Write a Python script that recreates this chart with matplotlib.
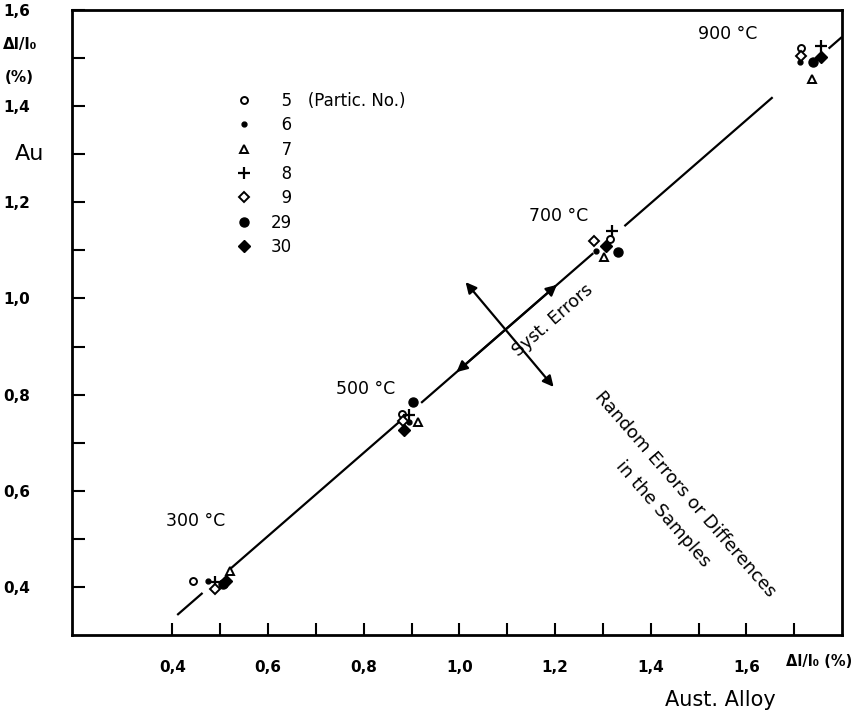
import numpy as np
import matplotlib.pyplot as plt
from matplotlib.lines import Line2D
from matplotlib.transforms import blended_transform_factory

plt.rcParams['font.family'] = ['DejaVu Sans']

# dilatation (%) of the austenitic alloy (x) vs. gold (y), per particle number
temps = [300, 500, 700, 900]
particles = ['5', '6', '7', '8', '9', '29', '30']
x_5 = [0.444, 0.881, 1.314, 1.714]
y_5 = [0.412, 0.760, 1.123, 1.521]
x_6 = [0.475, 0.894, 1.285, 1.712]
y_6 = [0.412, 0.743, 1.099, 1.491]
x_7 = [0.521, 0.913, 1.302, 1.737]
y_7 = [0.433, 0.743, 1.086, 1.456]
x_8 = [0.490, 0.894, 1.320, 1.756]
y_8 = [0.410, 0.757, 1.140, 1.525]
x_9 = [0.490, 0.883, 1.281, 1.714]
y_9 = [0.396, 0.745, 1.119, 1.504]
x_29 = [0.505, 0.902, 1.331, 1.739]
y_29 = [0.406, 0.785, 1.096, 1.491]
x_30 = [0.511, 0.885, 1.306, 1.756]
y_30 = [0.412, 0.727, 1.109, 1.502]

# straight line through the points, drawn in pieces around the clusters
fit_slope = 0.865
fit_icpt = -0.013
fit_pieces = [(0.41, 0.463), (0.517, 0.875), (0.92, 1.28), (1.345, 1.655), (1.772, 1.80)]

# temperature labels
temp_x = [0.448, 0.804, 1.208, 1.561]
temp_y = [0.537, 0.812, 1.171, 1.550]

xtick_major = [0.4, 0.6, 0.8, 1.0, 1.2, 1.4, 1.6]
xtick_labels = ['0,4', '0,6', '0,8', '1,0', '1,2', '1,4', '1,6']
ytick_major = [0.4, 0.6, 0.8, 1.0, 1.2, 1.4, 1.6]
ytick_labels = ['0,4', '0,6', '0,8', '1,0', '1,2', '1,4', '1,6']

fig = plt.figure(figsize=(8.57, 7.23), dpi=100)
ax = fig.add_axes([72 / 857, 88 / 723, 770 / 857, 625 / 723])

styles = {
    '5':  dict(marker='o', ms=5, mfc='white', mec='black', mew=1.4),
    '6':  dict(marker='o', ms=3.5, mfc='black', mec='black', mew=1),
    '7':  dict(marker='^', ms=6, mfc='white', mec='black', mew=1.4),
    '8':  dict(marker='+', ms=8, mec='black', mew=1.6),
    '9':  dict(marker='D', ms=5, mfc='white', mec='black', mew=1.4),
    '29': dict(marker='o', ms=6.5, mfc='black', mec='black'),
    '30': dict(marker='D', ms=6, mfc='black', mec='black'),
}
series = {'5': (x_5, y_5), '6': (x_6, y_6), '7': (x_7, y_7), '8': (x_8, y_8),
          '9': (x_9, y_9), '29': (x_29, y_29), '30': (x_30, y_30)}

for x0, x1 in fit_pieces:
    xs = np.array([x0, x1])
    ax.plot(xs, fit_slope * xs + fit_icpt, color='black', lw=1.6, solid_capstyle='butt')

for p in particles:
    xs, ys = series[p]
    ax.plot(xs, ys, ls='none', zorder=3, **styles[p])

for tx, ty, t in zip(temp_x, temp_y, temps):
    ax.text(tx, ty, f'{t} °C', fontsize=12.5, ha='center', va='center')

# systematic errors: along the line
sx = np.array([0.994, 1.204])
ax.annotate('', xy=(sx[1], fit_slope * sx[1] + fit_icpt), xytext=(sx[0], fit_slope * sx[0] + fit_icpt),
            arrowprops=dict(arrowstyle='<|-|>', color='black', lw=1.6, mutation_scale=16,
                            shrinkA=0, shrinkB=0))
# random errors: across the line
ax.annotate('', xy=(1.197, 0.816), xytext=(1.013, 1.034),
            arrowprops=dict(arrowstyle='<|-|>', color='black', lw=1.6, mutation_scale=16,
                            shrinkA=0, shrinkB=0))
ax.text(1.195, 0.955, 'Syst. Errors', fontsize=12.5, rotation=41, ha='center', va='center',
        rotation_mode='anchor')
ax.text(1.448, 0.572, 'Random Errors or Differences\nin the Samples', fontsize=13,
        rotation=-49, ha='center', va='center', rotation_mode='anchor', linespacing=1.8)

# legend of particle numbers
handles = [Line2D([], [], ls='none', **styles[p]) for p in particles]
labels = ['\u20075   (Partic. No.)', '\u20076', '\u20077', '\u20078', '\u20079', '29', '30']
ax.legend(handles, labels, loc='upper left', bbox_to_anchor=(0.212, 0.869), frameon=False,
          fontsize=12, handlelength=1, handletextpad=1.15, labelspacing=0.38,
          borderpad=0, borderaxespad=0)

ax.set_xlim(0.19, 1.80)
ax.set_ylim(0.30, 1.60)
ax.set_xticks(xtick_major)
ax.set_xticklabels(xtick_labels)
ax.set_xticks(np.arange(0.5, 1.75, 0.2), minor=True)
ax.set_yticks(ytick_major)
ax.set_yticklabels(ytick_labels)
ax.set_yticks(np.arange(0.5, 1.55, 0.2), minor=True)
ax.tick_params(which='both', direction='in', length=9, width=1.5, top=False, right=False)
ax.tick_params(axis='x', pad=18, labelsize=11)
ax.tick_params(axis='y', pad=30, labelsize=11)
for lab in ax.get_xticklabels() + ax.get_yticklabels():
    lab.set_fontweight('bold')
for s in ax.spines.values():
    s.set_linewidth(2)

# axis titles
ybl = blended_transform_factory(ax.transAxes, ax.transData)
xbl = blended_transform_factory(ax.transData, ax.transAxes)
ax.text(-0.068, 1.529, 'Δl/l₀', fontsize=11, fontweight='bold', ha='center', va='center',
        transform=ybl)
ax.text(-0.068, 1.46, '(%)', fontsize=11, fontweight='bold', ha='center', va='center',
        transform=ybl)
ax.text(-0.055, 1.30, 'Au', fontsize=16, ha='center', va='center', transform=ybl)
ax.text(1.752, -0.043, 'Δl/l₀ (%)', fontsize=10.5, fontweight='bold', ha='center', va='center',
        transform=xbl)
ax.text(1.546, -0.104, 'Aust. Alloy', fontsize=15, ha='center', va='center', transform=xbl)

fig.savefig('out.png', dpi=100)
